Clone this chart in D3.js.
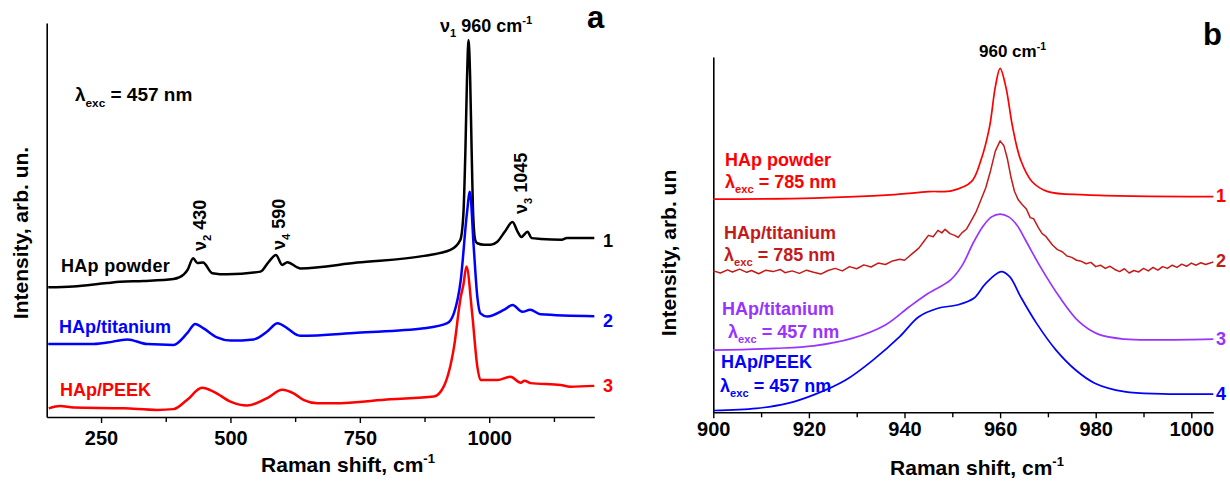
<!DOCTYPE html>
<html>
<head>
<meta charset="utf-8">
<script src="https://cdn.jsdelivr.net/npm/d3@7"></script>
<style>
  html, body { margin: 0; padding: 0; background: #fff; }
  svg { display: block; font-family: "Liberation Sans", Arial, sans-serif; font-weight: bold; }
  .axis path, .axis line { stroke: #000; }
  .axis text { font-family: "Liberation Sans", Arial, sans-serif; font-weight: bold; fill: #000; }
</style>
</head>
<body>
<svg id="chart" width="1230" height="481"></svg>
<script>
// ---- panel a : Raman spectra, lambda_exc = 457 nm ----
const ticksA = [250, 500, 750, 1000];
const minorTicksA = [375, 625, 875, 1125];

// [Raman shift cm-1, intensity arb. un.]
const hapPowderA = [
  [148, 329], [196, 331], [262, 340], [287, 343], [332, 345], [390, 350], [410, 362],
  [417, 373], [428, 403], [436, 391], [447, 392], [465, 365], [494, 362], [558, 369],
  [574, 394], [588, 411], [600, 386], [610, 393], [629, 380], [635, 377], [745, 392],
  [874, 409], [925, 424], [944, 449], [950, 513], [954, 678], [957, 855], [960, 957],
  [963, 868], [966, 678], [969, 513], [973, 449], [977, 441], [990, 437], [1003, 437],
  [1015, 444], [1030, 470], [1045, 495], [1055, 470], [1062, 457], [1074, 470],
  [1082, 454], [1100, 452], [1140, 450], [1150, 454], [1203, 454]
];
const hapTitaniumA = [
  [148, 185], [230, 185], [262, 189], [301, 197], [339, 185], [390, 183], [416, 212],
  [432, 236], [448, 225], [474, 202], [500, 194], [545, 197], [571, 217], [591, 238],
  [610, 225], [629, 208], [635, 206], [745, 214], [874, 225], [919, 238], [932, 264],
  [945, 348], [957, 518], [962.6, 572], [970, 432], [977, 305], [983, 263], [996, 255],
  [1030, 273], [1045, 284], [1064, 267], [1079, 272], [1099, 261], [1203, 256]
];
const hapPeekA = [
  [149, 22], [171, 28], [197, 24], [294, 22], [358, 18], [390, 20], [416, 43], [445, 74],
  [468, 64], [500, 39], [532, 29], [571, 48], [600, 69], [622, 60], [642, 43], [668, 35],
  [700, 35], [809, 45], [893, 52], [912, 77], [932, 178], [945, 305], [950, 335],
  [956, 382], [967, 263], [977, 128], [983, 94], [1016, 94], [1041, 102], [1061, 87],
  [1068, 92], [1080, 86], [1138, 81], [1157, 77], [1203, 79]
];

// ---- panel b : 960 cm-1 band ----
const ticksB = [900, 920, 940, 960, 980, 1000];
const minorTicksB = [910, 930, 950, 970, 990];

const hapPowder785 = [
  [900, 600], [921, 603], [937, 612], [945, 621], [950, 624], [954, 649], [956, 710],
  [957.8, 804], [959, 916], [960, 968], [961.2, 916], [962.6, 804], [964.3, 710],
  [966.7, 649], [970, 621], [978, 612], [1004.6, 607]
];
const hapTitanium785 = [
  [900, 398], [901.5, 392], [903, 401], [904, 395], [905.5, 403], [907, 394], [908, 399],
  [909.5, 390], [911, 400], [912.5, 396], [914, 402], [915, 393], [916.5, 398], [918, 391],
  [919.5, 400], [921, 394], [922.5, 389], [924, 399], [925.5, 405], [927, 398], [928.5, 410],
  [930, 404], [931.5, 415], [933, 409], [934.5, 420], [936, 416], [937.5, 426], [939, 431],
  [940, 428], [941.5, 445], [943, 462], [944, 480], [945, 498], [946, 494], [947, 512],
  [947.8, 505], [948.5, 515], [949.5, 503], [950.5, 498], [951.2, 492], [952, 505],
  [953, 516], [954, 540], [955, 565], [956, 598], [957, 632], [958, 680], [959, 735],
  [960, 764], [960.8, 750], [961.5, 715], [962.3, 660], [963, 622], [963.8, 598],
  [964.6, 585], [965.5, 572], [966.3, 548], [967, 545], [968, 520], [968.8, 503],
  [969.5, 496], [970.3, 482], [971, 470], [972, 458], [973, 452], [974, 440], [975, 436],
  [976, 428], [977, 425], [978, 418], [979, 422], [980, 410], [981, 414], [982, 405],
  [983, 411], [984, 402], [985, 396], [986, 404], [987, 392], [988, 399], [989, 395],
  [990, 405], [991, 398], [992, 408], [993, 400], [994, 410], [995, 405], [996, 414],
  [997, 408], [998, 417], [999, 411], [1000, 420], [1001, 414], [1002, 421], [1003, 416],
  [1004.6, 423]
];
const hapTitanium457 = [
  [900, 175], [913, 180], [921, 187], [929, 208], [936, 246], [941, 297], [945, 335],
  [949.6, 372], [952, 412], [954.5, 480], [956.5, 525], [958.2, 550], [960, 558],
  [961.8, 550], [963.5, 527], [965.3, 485], [968.4, 410], [972.4, 325], [976.5, 255],
  [980.5, 220], [986, 206], [994, 204], [1004.6, 206]
];
const hapPeek457 = [
  [900, 5], [909, 11], [915.5, 25], [921, 49], [927.7, 91], [933.4, 147], [939, 213],
  [943, 269], [947, 293], [951, 302], [954.5, 321], [957, 363], [960.2, 396],
  [962, 382], [964.3, 325], [967.6, 251], [971.7, 175], [975.8, 119], [979.8, 82],
  [986, 58], [994, 52], [1004.6, 51]
];

const svg = d3.select('#chart');

// scales
const xA = d3.scaleLinear().domain([145, 1203]).range([46.7, 594.3]);
const yA = d3.scaleLinear().domain([0, 1000]).range([417, 23]);
const xB = d3.scaleLinear().domain([900, 1004.6]).range([713.3, 1213.3]);
const yB = d3.scaleLinear().domain([0, 1000]).range([412.3, 57]);

// text with sub / superscripts : parts = [[str, 'n'|'sub'|'sup'], ...]
function richText(g, x, y, parts, size, color, rotate) {
  const t = g.append('text')
    .attr('font-size', size)
    .attr('fill', color || '#000');
  if (rotate) t.attr('transform', `translate(${x},${y}) rotate(-90)`);
  else t.attr('x', x).attr('y', y);
  let shift = 0;
  parts.forEach(([s, kind]) => {
    let target = 0, fs = size;
    if (kind === 'sub') { target = size * 0.3; fs = size * 0.62; }
    if (kind === 'sup') { target = -size * 0.42; fs = size * 0.62; }
    t.append('tspan')
      .attr('dy', target - shift)
      .attr('font-size', fs)
      .text(s);
    shift = target;
  });
  return t;
}

function drawAxes(x, y, major, minor, pad) {
  svg.append('g').attr('class', 'axis')
    .attr('transform', `translate(0,${y.range()[0]})`)
    .call(d3.axisBottom(x).tickValues(major).tickSize(6).tickSizeOuter(0)
      .tickPadding(pad).tickFormat(d3.format('d')))
    .call(g => g.selectAll('text').attr('font-size', 20))
    .call(g => g.select('.domain').attr('stroke-width', 1.6))
    .call(g => g.selectAll('.tick line').attr('stroke-width', 1.4));
  svg.append('g').attr('class', 'axis')
    .attr('transform', `translate(0,${y.range()[0]})`)
    .call(d3.axisBottom(x).tickValues(minor).tickSize(5).tickFormat(''))
    .call(g => g.select('.domain').remove())
    .call(g => g.selectAll('.tick line').attr('stroke-width', 1.4));
  svg.append('g').attr('class', 'axis')
    .attr('transform', `translate(${x.range()[0]},0)`)
    .call(d3.axisLeft(y).tickValues([]).tickSizeOuter(0))
    .call(g => g.select('.domain').attr('stroke-width', 1.6));
}

function drawLine(data, x, y, color, width, curve) {
  svg.append('path')
    .datum(data)
    .attr('fill', 'none')
    .attr('stroke', color)
    .attr('stroke-width', width)
    .attr('stroke-linejoin', 'round')
    .attr('d', d3.line().x(d => x(d[0])).y(d => y(d[1])).curve(curve));
}

// ---------------- panel a ----------------
drawAxes(xA, yA, ticksA, minorTicksA, 8);
drawLine(hapPowderA, xA, yA, '#000', 2.5, d3.curveMonotoneX);
drawLine(hapTitaniumA, xA, yA, '#0000ff', 2.5, d3.curveMonotoneX);
drawLine(hapPeekA, xA, yA, '#ff0000', 2.5, d3.curveMonotoneX);

const gA = svg.append('g');
richText(gA, 75, 101, [['λ', 'n'], ['exc', 'sub'], [' = 457 nm', 'n']], 19);
richText(gA, 440, 32, [['ν', 'n'], ['1', 'sub'], [' 960 cm', 'n'], ['-1', 'sup']], 18);
richText(gA, 206, 251, [['ν', 'n'], ['2', 'sub'], [' 430', 'n']], 18, '#000', true);
richText(gA, 285, 250, [['ν', 'n'], ['4', 'sub'], [' 590', 'n']], 18, '#000', true);
richText(gA, 527, 214, [['ν', 'n'], ['3', 'sub'], [' 1045', 'n']], 18, '#000', true);
gA.append('text').attr('x', 61).attr('y', 272).attr('font-size', 18)
  .attr('letter-spacing', 0.3).attr('fill', '#000').text('HAp powder');
gA.append('text').attr('x', 59).attr('y', 333).attr('font-size', 18)
  .attr('fill', '#0000ff').text('HAp/titanium');
gA.append('text').attr('x', 60).attr('y', 396).attr('font-size', 18)
  .attr('fill', '#ff0000').text('HAp/PEEK');
[['1', 247, '#000'], ['2', 327, '#0000ff'], ['3', 392, '#ff0000']].forEach(([s, yy, c]) => {
  gA.append('text').attr('x', 603).attr('y', yy).attr('font-size', 18).attr('fill', c).text(s);
});
gA.append('text').attr('x', 587).attr('y', 28).attr('font-size', 31).text('a');
richText(gA, 348, 472, [['Raman shift, cm', 'n'], ['-1', 'sup']], 21).attr('text-anchor', 'middle');
gA.append('text').attr('transform', 'translate(28,233) rotate(-90)')
  .attr('text-anchor', 'middle').attr('font-size', 21).text('Intensity, arb. un.');

// ---------------- panel b ----------------
drawAxes(xB, yB, ticksB, minorTicksB, 4);
const cRed = '#ff0000', cDark = '#c41a1a', cPurple = '#9933ff', cBlue = '#0000ff';
const smooth = d3.curveCatmullRom.alpha(0.5);
drawLine(hapPowder785, xB, yB, cRed, 1.7, smooth);
drawLine(hapTitanium785, xB, yB, cDark, 1.5, d3.curveLinear);
drawLine(hapTitanium457, xB, yB, cPurple, 1.7, smooth);
drawLine(hapPeek457, xB, yB, cBlue, 1.7, smooth);

const gB = svg.append('g');
richText(gB, 979, 57, [['960 cm', 'n'], ['-1', 'sup']], 17);
gB.append('text').attr('x', 1203).attr('y', 45).attr('font-size', 31).text('b');
const labelsB = [
  ['HAp powder', 725, 166, cRed], ['HAp/titanium', 724, 239, cDark],
  ['HAp/titanium', 722, 315, cPurple], ['HAp/PEEK', 721, 368, cBlue]
];
labelsB.forEach(([s, x, y, c]) => {
  gB.append('text').attr('x', x).attr('y', y).attr('font-size', 18).attr('fill', c).text(s);
});
[[725, 188, '785', cRed], [724, 261, '785', cDark], [728, 338, '457', cPurple], [720, 392, '457', cBlue]]
  .forEach(([x, y, nm, c]) => {
    richText(gB, x, y, [['λ', 'n'], ['exc', 'sub'], [` = ${nm} nm`, 'n']], 18, c);
  });
[['1', 202, cRed], ['2', 267, cDark], ['3', 345, cPurple], ['4', 400, cBlue]].forEach(([s, yy, c]) => {
  gB.append('text').attr('x', 1216).attr('y', yy).attr('font-size', 18).attr('fill', c).text(s);
});
richText(gB, 977, 475, [['Raman shift, cm', 'n'], ['-1', 'sup']], 21).attr('text-anchor', 'middle');
gB.append('text').attr('transform', 'translate(676,253) rotate(-90)')
  .attr('text-anchor', 'middle').attr('font-size', 21).text('Intensity, arb. un');
</script>
</body>
</html>
